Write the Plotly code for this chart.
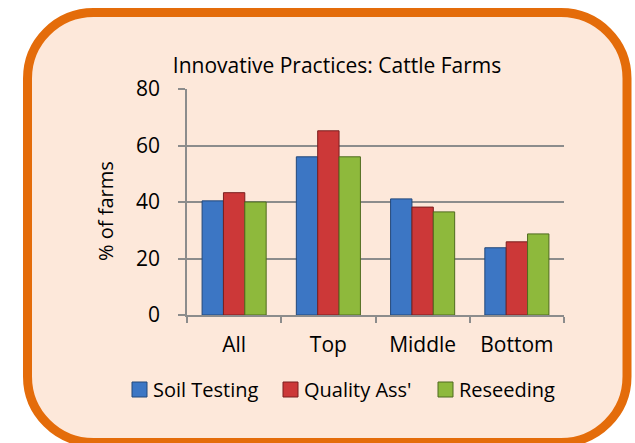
import plotly.graph_objects as go

# --- data ---
groups = ["All", "Top", "Middle", "Bottom"]
soil_testing = [40.4, 56.0, 41.1, 23.8]
quality_ass = [43.3, 65.2, 38.2, 25.9]
reseeding = [40.0, 56.0, 36.5, 28.7]

series_names = ["Soil Testing", "Quality Ass'", "Reseeding"]
series_colors = ["#3C76C4", "#CC3838", "#8EB93C"]
series_edges = ["#23487A", "#7A1F1F", "#4F6B1E"]

W, H = 635, 443
L, R, T, B = 187, 71, 89, 128
PW, PH = W - L - R, H - T - B
FONT = "Open Sans, sans-serif"

def px(x):
    return (x - L) / PW

def py(y):
    return 1 - (y - T) / PH

def pt(x, y):
    return f"{px(x):.5f},{py(y):.5f}"

# rounded frame around the chart (pixel coords converted to paper), arcs as cubic curves
x0, y0, x1, y1, r = 27.5, 12.5, 627, 442.5, 66
k = r * 0.5523
path = (
    f"M {pt(x0 + r, y0)} L {pt(x1 - r, y0)} "
    f"C {pt(x1 - r + k, y0)} {pt(x1, y0 + r - k)} {pt(x1, y0 + r)} "
    f"L {pt(x1, y1 - r)} "
    f"C {pt(x1, y1 - r + k)} {pt(x1 - r + k, y1)} {pt(x1 - r, y1)} "
    f"L {pt(x0 + r, y1)} "
    f"C {pt(x0 + r - k, y1)} {pt(x0, y1 - r + k)} {pt(x0, y1 - r)} "
    f"L {pt(x0, y0 + r)} "
    f"C {pt(x0, y0 + r - k)} {pt(x0 + r - k, y0)} {pt(x0 + r, y0)} Z"
)

fig = go.Figure()
for name, vals, col, edge in zip(series_names, [soil_testing, quality_ass, reseeding],
                                 series_colors, series_edges):
    fig.add_trace(go.Bar(x=groups, y=vals, name=name,
                         marker=dict(color=col, line=dict(color=edge, width=1))))

fig.add_shape(type="path", path=path, xref="paper", yref="paper", layer="below",
              fillcolor="#FDE8DA", line=dict(color="#E46C0A", width=9))

# legend drawn by hand so it sits on one row like the original
legend_sq = [132, 283, 438]
for name, col, edge, sx in zip(series_names, series_colors, series_edges, legend_sq):
    fig.add_shape(type="rect", xref="paper", yref="paper",
                  x0=px(sx), x1=px(sx + 15), y0=py(397), y1=py(382),
                  fillcolor=col, line=dict(color=edge, width=1))
    fig.add_annotation(text=name, xref="paper", yref="paper", x=px(sx + 19), y=py(389),
                       xanchor="left", yanchor="middle", showarrow=False,
                       font=dict(size=20, color="#000"))

fig.add_annotation(text="% of farms", xref="paper", yref="paper",
                   x=px(105), y=py(211), xanchor="center", yanchor="middle",
                   textangle=-90, showarrow=False,
                   font=dict(size=20, color="#000"))

fig.update_layout(
    width=W, height=H,
    margin=dict(l=L, r=R, t=T, b=B),
    paper_bgcolor="white", plot_bgcolor="rgba(0,0,0,0)",
    font=dict(family=FONT, color="#000"),
    title=dict(text="Innovative Practices: Cattle Farms", x=337 / W, xanchor="center",
               y=1 - 66 / H, yanchor="middle", yref="container",
               font=dict(size=21, color="#000")),
    barmode="group", bargap=0.32, bargroupgap=0,
    showlegend=False,
    xaxis=dict(showline=True, linecolor="#8C8C8C", linewidth=1.5,
               ticks="outside", tickson="boundaries", ticklen=6, tickcolor="#8C8C8C",
               tickwidth=1.5, tickfont=dict(size=21), ticklabelstandoff=10),
    yaxis=dict(range=[0, 80], dtick=20, showline=True, linecolor="#8C8C8C", linewidth=1.5,
               showgrid=True, gridcolor="#8C8C8C", gridwidth=1.5, zeroline=False,
               ticks="outside", ticklen=7, tickcolor="#8C8C8C", tickwidth=1.5,
               tickfont=dict(size=21), ticklabelstandoff=14),
)

# the page's default body margin would shift the figure by 8px
fig.write_html("out.html", config={"displayModeBar": False},
               post_script="document.body.style.margin='0';")
